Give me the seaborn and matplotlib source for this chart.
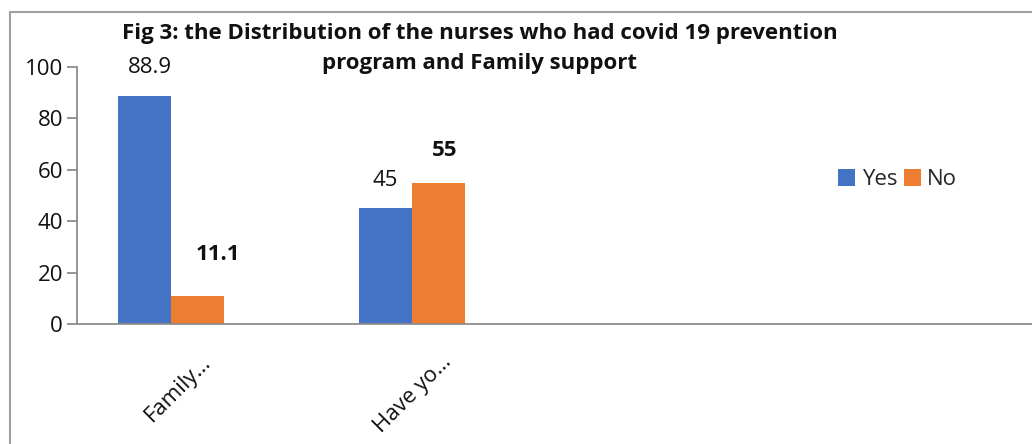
import pandas as pd
import matplotlib.pyplot as plt
import matplotlib.transforms as mtransforms
from matplotlib.patches import Rectangle
import seaborn as sns

# Data
items = ['Family…', 'Have yo…']
yes_values = [88.9, 45]
no_values = [11.1, 55]
answers = ['Yes', 'No']
colors = ['#4472C4', '#ED7D31']
title_lines = ['Fig 3: the Distribution of the nurses who had covid 19 prevention',
               'program and Family support']

df = pd.DataFrame({
    'item': items * 2,
    'pct': yes_values + no_values,
    'answer': ['Yes'] * len(items) + ['No'] * len(items),
})

sns.set_style('white')
plt.rcParams['font.family'] = ['Open Sans', 'DejaVu Sans']

fig = plt.figure(figsize=(10.32, 4.44), dpi=100)
ax = fig.add_axes([77 / 1032, 0.27, 1 - 77 / 1032, 0.579])

sns.barplot(data=df, x='item', y='pct', hue='answer', hue_order=answers,
            palette=colors, width=0.44, saturation=1, linewidth=0, ax=ax)

ax.set_xlim(-0.39, 3.57)
ax.set_ylim(0, 100)
ax.set_yticks([0, 20, 40, 60, 80, 100])
ax.set_xlabel('')
ax.set_ylabel('')
for side in ['top', 'right']:
    ax.spines[side].set_visible(False)
for side in ['left', 'bottom']:
    ax.spines[side].set_color('#8c8c8c')
    ax.spines[side].set_linewidth(1.3)
ax.tick_params(axis='y', left=True, length=7, width=1.3, color='#8c8c8c',
               labelsize=16, labelcolor='#111111', pad=3)
ax.tick_params(axis='x', bottom=False, labelsize=16, labelcolor='#111111')

# rotated, shifted category labels
for lab in ax.get_xticklabels():
    lab.set_rotation(45)
    lab.set_ha('right')
    lab.set_va('top')
    lab.set_rotation_mode('anchor')
    lab.set_transform(lab.get_transform() +
                      mtransforms.ScaledTranslation(0.29, -0.18, fig.dpi_scale_trans))

# value labels, offsets (px right, data units up) mimic the moved labels in the original
offsets = {'Yes': [(5, 11), (0, 11)], 'No': [(20, 16), (6, 12.5)]}
for cont, ans in zip(ax.containers, answers):
    for bar, (dx, dy) in zip(cont, offsets[ans]):
        h = bar.get_height()
        ax.annotate(f'{h:g}', (bar.get_x() + bar.get_width() / 2, h),
                    xytext=(dx * 0.72, dy * 2.57 * 0.72), textcoords='offset points',
                    ha='center', va='center', fontsize=16,
                    fontweight='bold' if ans == 'No' else 'normal',
                    color='#111111', annotation_clip=False)

handles, labels = ax.get_legend_handles_labels()
ax.legend_.remove()
fig.legend(handles, labels, loc='center', bbox_to_anchor=(0.87, 0.595),
           ncol=2, frameon=False, fontsize=16, handlelength=0.75,
           handleheight=0.75, handletextpad=0.3, columnspacing=0.3)

# title, two lines placed like the original
for line, ypx in zip(title_lines, [33, 64]):
    fig.text(0.465, 1 - ypx / 444, line, ha='center', va='center',
             fontsize=16, fontweight='bold', color='#111111')

# chart border (cut off at right and bottom)
fig.patches.append(Rectangle((10 / 1032, -0.5), 1.5, 1.5 - 12 / 444,
                             transform=fig.transFigure, fill=False,
                             edgecolor='#a0a0a0', linewidth=1.5))

fig.savefig('out.png', dpi=100)
